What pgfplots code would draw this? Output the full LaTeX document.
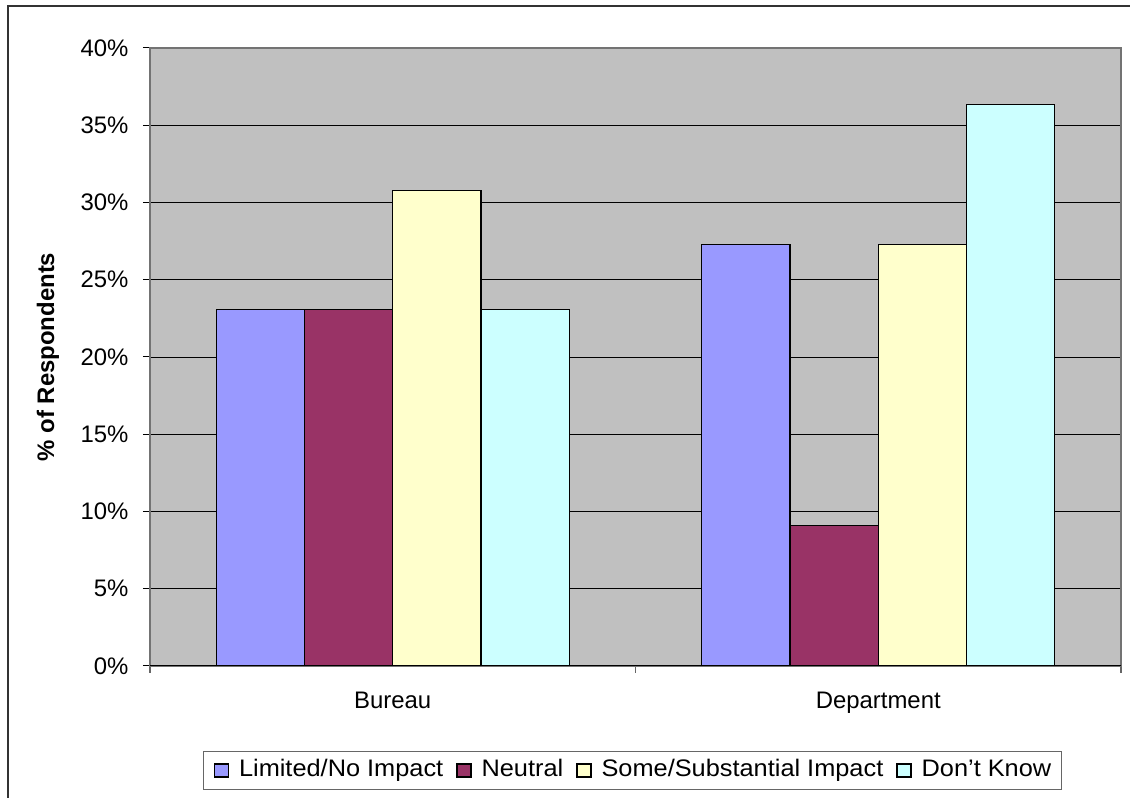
\documentclass[border=0pt]{standalone}
\usepackage{fontspec}
\setmainfont{Liberation Sans}
\newfontfamily\legfont{Liberation Sans}[FakeStretch=1.06]
\usepackage{pgfplots}
\pgfplotsset{compat=1.18}
\definecolor{cLim}{HTML}{9999FF}
\definecolor{cNeu}{HTML}{993366}
\definecolor{cSome}{HTML}{FFFFCC}
\definecolor{cDK}{HTML}{CCFFFF}
\definecolor{cBg}{HTML}{C0C0C0}
\begin{document}
\begin{tikzpicture}[x=1bp,y=1bp,font=\fontsize{24}{28}\selectfont]
\useasboundingbox (0,0) rectangle (1130,798);
\draw[line width=1.5bp, black!80] (8,-20) -- (8,792) -- (1150,792);
\begin{axis}[
  at={(150bp,132bp)}, anchor=south west,
  width=971bp, height=618bp, scale only axis,
  xmin=-0.5, xmax=1.5, ymin=0, ymax=40,
  ytick={0,5,...,40},
  yticklabel={\pgfmathprintnumber{\tick}\%},
  /pgf/number format/assume math mode=true,
  xtick={-0.5,0.5,1.5},
  xticklabels={Bureau,Department},
  x tick label as interval,
  xticklabel style={yshift=-16bp},
  yticklabel style={xshift=-11bp},
  xtick pos=bottom, ytick pos=left,
  tick align=outside,
  major tick length=7bp,
  tick style={black, line width=1bp},
  x tick style={black!60, line width=1.5bp},
  axis line style={draw=black!55, line width=1.5bp},
  axis background/.style={fill=cBg},
  ymajorgrids,
  major grid style={black, line width=0.8bp},
  ybar=0pt, bar width=88.25bp,
  every axis plot post/.append style={legend image code/.code={\draw[#1,draw=black,line width=1.3bp] (0bp,-6.5bp) rectangle (14bp,6.5bp);}},
  ylabel={\bfseries \% of Respondents},
  ylabel style={at={(axis description cs:-0.105,0.5)}, anchor=center},
  legend columns=4,
  legend style={at={(axis description cs:0.4969,-0.1691)}, anchor=center,
    draw=black!60, line width=1.2bp, inner xsep=10bp, inner ysep=8bp,
    nodes={inner sep=0pt, text height=17bp, text depth=5bp},
    /tikz/every odd column/.append style={column sep=10bp},
    /tikz/every even column/.append style={column sep=13bp},
    font=\legfont\fontsize{24}{28}\selectfont},
  legend cell align=left,
]
\addplot[fill=cLim, draw=black, line width=1.3bp] coordinates {(0,23.08) (1,27.27)};
\addplot[fill=cNeu, draw=black, line width=1.3bp] coordinates {(0,23.08) (1,9.09)};
\addplot[fill=cSome, draw=black, line width=1.3bp] coordinates {(0,30.77) (1,27.27)};
\addplot[fill=cDK, draw=black, line width=1.3bp] coordinates {(0,23.08) (1,36.36)};
\legend{Limited/No Impact, Neutral, Some/Substantial Impact, Don’t Know}
\draw[black, line width=1.5bp] (rel axis cs:0,0) -- (rel axis cs:1,0);
\end{axis}
\end{tikzpicture}
\end{document}
